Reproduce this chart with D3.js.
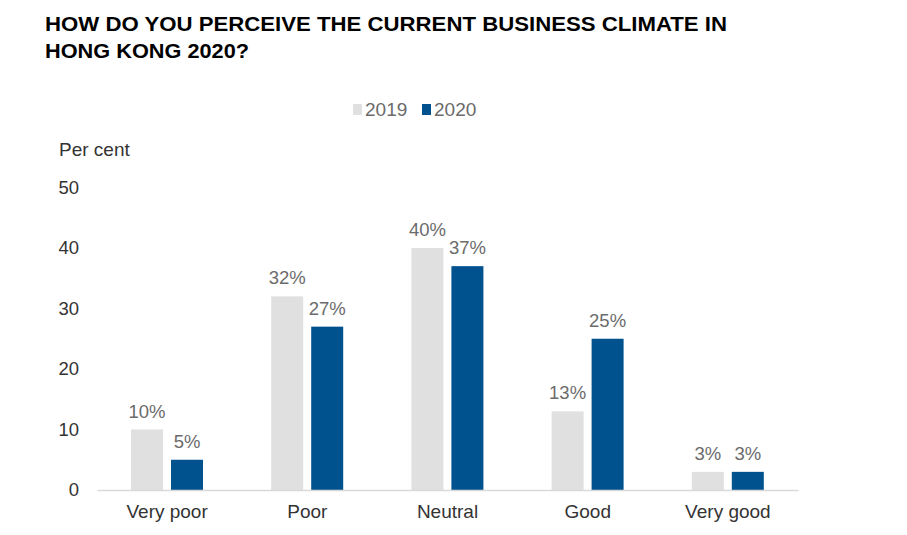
<!DOCTYPE html>
<html>
<head>
<meta charset="utf-8">
<script src="https://cdn.jsdelivr.net/npm/d3@7"></script>
<style>
  body { margin: 0; background: #fff; }
  text { font-family: "Liberation Sans", Arial, sans-serif; }
</style>
</head>
<body>
<div id="chart"></div>
<script>
var svgWidth = 907;
var svgHeight = 535;

// data
var categories = ["Very poor", "Poor", "Neutral", "Good", "Very good"];
var years = ["2019", "2020"];
var values2019 = [10, 32, 40, 13, 3];
var values2020 = [5, 27, 37, 25, 3];
var yTicks = [0, 10, 20, 30, 40, 50];

var colors = { "2019": "#e0e0e0", "2020": "#00528f" };

var rows = categories.map(function(c, i) {
    return { cat: c, "2019": values2019[i], "2020": values2020[i] };
});

var svg = d3.select("#chart").append("svg")
    .attr("width", svgWidth)
    .attr("height", svgHeight);

// title
var title = svg.append("text")
    .attr("font-size", "20px")
    .attr("font-weight", "bold")
    .attr("fill", "#000");
title.append("tspan").attr("x", 45).attr("y", 31)
    .attr("textLength", 682).attr("lengthAdjust", "spacingAndGlyphs")
    .text("HOW DO YOU PERCEIVE THE CURRENT BUSINESS CLIMATE IN");
title.append("tspan").attr("x", 45).attr("y", 58)
    .attr("textLength", 204).attr("lengthAdjust", "spacingAndGlyphs")
    .text("HONG KONG 2020?");

// scales
var xScale = d3.scaleBand()
    .domain(categories)
    .range([97, 798]);

var xInner = d3.scaleBand()
    .domain(years)
    .range([34, 106])
    .paddingInner(0.2);

var yScale = d3.scaleLinear()
    .domain([0, 50])
    .range([490, 187.5]);

// y axis labels
var yAxis = svg.append("g")
    .attr("transform", "translate(79,0)")
    .call(d3.axisLeft(yScale).tickValues(yTicks).tickSize(0).tickPadding(0));
yAxis.select(".domain").remove();
yAxis.selectAll("text")
    .attr("font-size", "18.5px")
    .attr("font-family", "Liberation Sans, Arial, sans-serif")
    .attr("fill", "#333");

svg.append("text")
    .attr("x", 59)
    .attr("y", 156)
    .attr("font-size", "19px")
    .attr("fill", "#333")
    .text("Per cent");

// bars
var groups = svg.selectAll(".cat")
    .data(rows)
    .enter()
    .append("g")
    .attr("class", "cat")
    .attr("transform", d => `translate(${xScale(d.cat)},0)`);

groups.selectAll("rect")
    .data(d => years.map(y => ({ year: y, value: d[y] })))
    .enter()
    .append("rect")
    .attr("x", d => xInner(d.year))
    .attr("y", d => yScale(d.value))
    .attr("width", xInner.bandwidth())
    .attr("height", d => yScale(0) - yScale(d.value))
    .attr("fill", d => colors[d.year]);

groups.selectAll(".val")
    .data(d => years.map(y => ({ year: y, value: d[y] })))
    .enter()
    .append("text")
    .attr("class", "val")
    .attr("x", d => xInner(d.year) + xInner.bandwidth() / 2)
    .attr("y", d => yScale(d.value) - 12)
    .attr("text-anchor", "middle")
    .attr("font-size", "18.5px")
    .attr("fill", "#6b6b6b")
    .text(d => d.value + "%");

// x axis
var xAxis = svg.append("g")
    .attr("transform", "translate(0,490)")
    .call(d3.axisBottom(xScale).tickSize(0).tickPadding(15));
xAxis.select(".domain").attr("stroke", "#d9d9d9").attr("stroke-width", 1.5);
xAxis.selectAll("text")
    .attr("font-size", "19px")
    .attr("font-family", "Liberation Sans, Arial, sans-serif")
    .attr("fill", "#333");

// legend
var legend = svg.append("g");
var legendX = [353, 422];
years.forEach(function(y, i) {
    legend.append("rect")
        .attr("x", legendX[i])
        .attr("y", 104)
        .attr("width", 9)
        .attr("height", 11)
        .attr("fill", colors[y]);
    legend.append("text")
        .attr("x", legendX[i] + 12)
        .attr("y", 116)
        .attr("font-size", "19px")
        .attr("fill", "#6b6b6b")
        .text(y);
});
</script>
</body>
</html>
